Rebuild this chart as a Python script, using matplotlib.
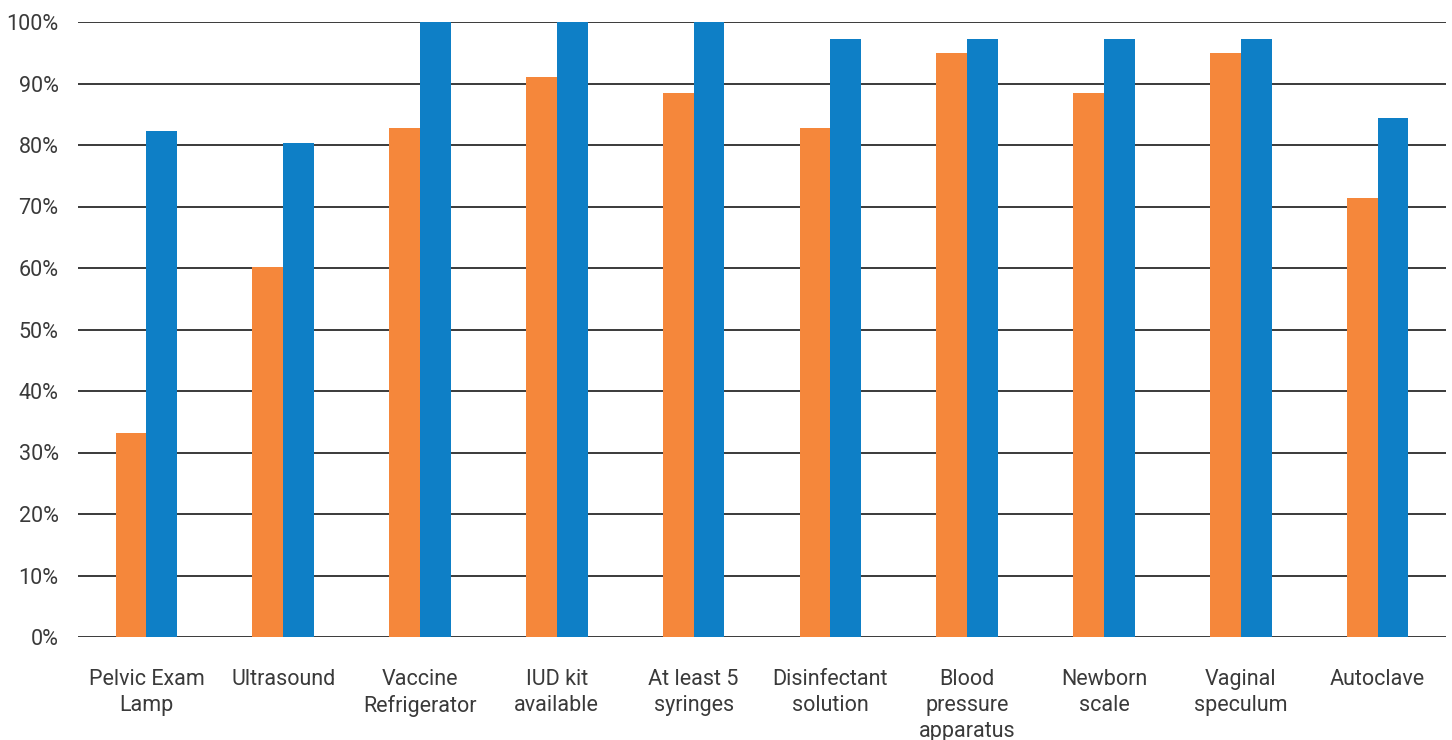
import numpy as np
import matplotlib
matplotlib.use("Agg")
import matplotlib.pyplot as plt
from matplotlib.ticker import PercentFormatter

plt.rcParams['font.family'] = ['Roboto', 'DejaVu Sans']

categories = [
    "Pelvic Exam\nLamp", "Ultrasound", "Vaccine\nRefrigerator", "IUD kit\navailable",
    "At least 5\nsyringes", "Disinfectant\nsolution", "Blood\npressure\napparatus",
    "Newborn\nscale", "Vaginal\nspeculum", "Autoclave",
]
orange_vals = [33.2, 60.2, 82.8, 91.1, 88.5, 82.8, 95.0, 88.5, 95.0, 71.4]
blue_vals = [82.3, 80.3, 100.0, 100.0, 100.0, 97.2, 97.2, 97.2, 97.2, 84.4]
y_ticks = list(range(0, 101, 10))

ORANGE = "#F5873B"
BLUE = "#0E7FC6"
TEXT = "#3a3a3a"

fig = plt.figure(figsize=(14.52, 7.40), dpi=100)
ax = fig.add_axes([78 / 1452, 1 - 637 / 740, (1446 - 78) / 1452, (637 - 22) / 740])

x = np.arange(len(categories))
w = 0.225
ax.bar(x - w / 2, orange_vals, width=w, color=ORANGE, zorder=2)
ax.bar(x + w / 2, blue_vals, width=w, color=BLUE, zorder=2)

# horizontal rules behind the bars
for t in y_ticks:
    ax.axhline(t, color="#2b2b2b", linewidth=1.3, zorder=1)

ax.set_xlim(-0.5, 9.5)
ax.set_ylim(0, 100)
ax.set_yticks(y_ticks)
ax.yaxis.set_major_formatter(PercentFormatter(decimals=0))
ax.set_xticks(x)
ax.set_xticklabels(categories, linespacing=1.32)

for s in ax.spines.values():
    s.set_visible(False)
ax.tick_params(axis="both", length=0, labelsize=15.5, labelcolor=TEXT)
ax.tick_params(axis="y", pad=14)
ax.tick_params(axis="x", pad=23)

fig.savefig("out.png", dpi=100)
